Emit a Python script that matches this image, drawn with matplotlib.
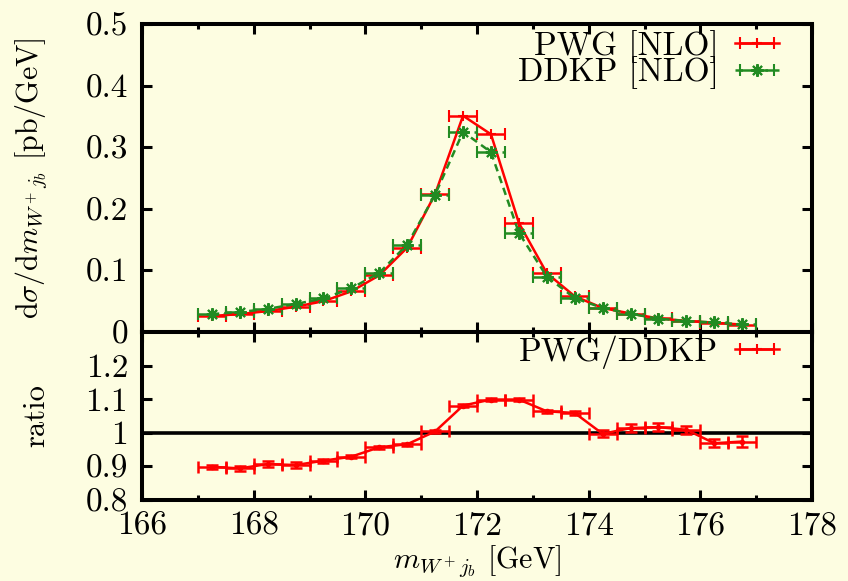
import matplotlib
matplotlib.use("Agg")
import matplotlib.pyplot as plt
from matplotlib.ticker import MultipleLocator, FuncFormatter

plt.rcParams['font.family'] = 'serif'
plt.rcParams['font.serif'] = ['cmr10']
plt.rcParams['mathtext.fontset'] = 'cm'
plt.rcParams['axes.formatter.use_mathtext'] = True

# bin centres of m(W+ jb) in GeV, 0.5 GeV bins from 167 to 177
bin_centres = [167.25, 167.75, 168.25, 168.75, 169.25, 169.75, 170.25, 170.75, 171.25, 171.75,
               172.25, 172.75, 173.25, 173.75, 174.25, 174.75, 175.25, 175.75, 176.25, 176.75]
bin_half = [0.25] * 20

# d sigma / d m  [pb/GeV]
pwg_nlo = [0.026, 0.029, 0.034, 0.041, 0.050, 0.066, 0.092, 0.137, 0.224, 0.351,
           0.321, 0.177, 0.0955, 0.058, 0.039, 0.030, 0.022, 0.018, 0.015, 0.012]
ddkp_nlo = [0.029, 0.0324, 0.0375, 0.0454, 0.0545, 0.071, 0.096, 0.142, 0.223, 0.325,
            0.292, 0.161, 0.090, 0.055, 0.039, 0.0296, 0.0216, 0.0178, 0.0155, 0.0123]

# PWG / DDKP
ratio = [0.899, 0.894, 0.907, 0.904, 0.917, 0.929, 0.957, 0.966, 1.004, 1.081,
         1.099, 1.099, 1.064, 1.059, 0.997, 1.014, 1.017, 1.009, 0.969, 0.974]
ratio_err = [0.006, 0.008, 0.010, 0.008, 0.006, 0.005, 0.005, 0.004, 0.004, 0.005,
             0.004, 0.004, 0.005, 0.006, 0.010, 0.012, 0.013, 0.012, 0.012, 0.015]

bg = '#fdfde1'
red = '#ff0000'
green = '#228b22'

fig = plt.figure(figsize=(8.48, 5.81), dpi=100, facecolor=bg)
W, H = 848, 581
ax1 = fig.add_axes([142 / W, 1 - 332 / H, 670 / W, 308 / H], facecolor=bg)
ax2 = fig.add_axes([142 / W, 1 - 500 / H, 670 / W, 168 / H], facecolor=bg)

e1 = ax1.errorbar(bin_centres, pwg_nlo, xerr=bin_half, fmt='-', color=red, marker='+',
                  ms=7, mew=1.5, lw=1.8, elinewidth=1.8, capsize=4, capthick=1.8,
                  label='PWG [NLO]')
e2 = ax1.errorbar(bin_centres, ddkp_nlo, xerr=bin_half, fmt='--', color=green, marker=(8, 2, 0),
                  ms=9, mew=1.5, lw=1.8, elinewidth=1.8, capsize=4, capthick=1.8,
                  dashes=(3, 2), label='DDKP [NLO]')
e2[2][0].set_linestyle((0, (3, 2)))

ax2.errorbar(bin_centres, ratio, xerr=bin_half, yerr=ratio_err, fmt='-', color=red,
             marker='o', ms=3, lw=1.8, elinewidth=1.8, capsize=4, capthick=1.8, zorder=3)
ax2.axhline(1.0, color='black', lw=2.6, zorder=2)

for ax in (ax1, ax2):
    ax.set_xlim(166, 178)
    ax.xaxis.set_major_locator(MultipleLocator(2))
    ax.xaxis.set_minor_locator(MultipleLocator(1))
    ax.tick_params(which='both', direction='in', top=True, right=True, width=2.2,
                   labelsize=24, pad=10)
    ax.tick_params(which='major', length=7)
    ax.tick_params(which='minor', length=3.5)
    for s in ax.spines.values():
        s.set_linewidth(2.9)
    ax.yaxis.set_major_formatter(FuncFormatter(lambda v, p: '%g' % round(v, 3)))
    ax.xaxis.set_major_formatter(FuncFormatter(lambda v, p: '%g' % v))
    ax.tick_params(axis='x', pad=8)

ax1.set_ylim(0, 0.5)
ax1.yaxis.set_major_locator(MultipleLocator(0.1))
ax1.tick_params(labelbottom=False)
ax1.set_ylabel(r'$\mathrm{d}\sigma/\mathrm{d}m_{W^+j_b}$ [pb/GeV]', fontsize=21.5)
ax1.yaxis.set_label_coords(-0.139, 0.5)

ax2.set_ylim(0.8, 1.3)
ax2.set_yticks([0.8, 0.9, 1.0, 1.1, 1.2])
ax2.set_ylabel('ratio', fontsize=22)
ax2.yaxis.set_label_coords(-0.137, 0.5)
ax2.set_xlabel(r'$m_{W^+j_b}$ [GeV]', fontsize=21.5, labelpad=2)

ax1.legend(loc='upper right', bbox_to_anchor=(0.95, 0.98), frameon=False, markerfirst=False,
           fontsize=24, handlelength=1.3, handletextpad=0.5, borderpad=0, borderaxespad=0,
           labelspacing=-0.2)
ax2.legend(handles=[e1], labels=['PWG/DDKP'], loc='upper right', bbox_to_anchor=(0.95, 0.98),
           frameon=False, markerfirst=False, fontsize=24, handlelength=1.3,
           handletextpad=0.5, borderpad=0, borderaxespad=0)

fig.savefig('out.png', dpi=100, facecolor=bg)
